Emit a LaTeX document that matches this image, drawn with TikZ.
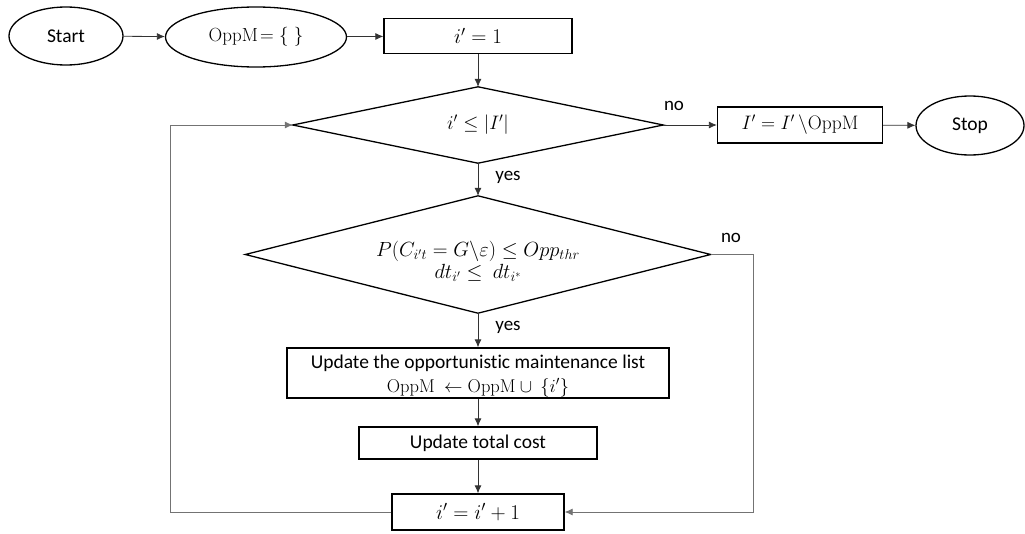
\RequirePackage{fix-cm}
\documentclass[tikz,border=0pt]{standalone}
\usepackage[no-math]{fontspec}
\setmainfont[Ligatures=NoCommon]{Carlito}
\usetikzlibrary{shapes.geometric,arrows.meta}

\begin{document}
\begin{tikzpicture}[x=1pt,y=-1pt,
  every node/.style={font=\fontsize{19.5}{24}\selectfont},
  term/.style={draw, ellipse, line width=1.3pt, inner sep=0pt},
  proc/.style={draw, rectangle, line width=1.3pt, inner sep=0pt, align=center},
  decframe/.style={rectangle, inner sep=0pt},
  decline/.style={draw, line width=1.3pt, line join=miter},
  flow/.style={-{Latex[length=8pt,width=7pt]}, line width=0.8pt, draw=black!80},
  back/.style={flow, draw=black!55},
  lbl/.style={font=\fontsize{19}{22}\selectfont}
]
\useasboundingbox (0,0) rectangle (1025,533);

% top row
\node[term, minimum width=114pt, minimum height=58pt] (start) at (66,36) {Start};
\node[term, minimum width=181pt, minimum height=60pt, font=\fontsize{19}{22}\selectfont] (oppm) at (256,37) {$\mathrm{OppM}\!=\{\;\}$};
\node[proc, minimum width=188pt, minimum height=35pt, font=\fontsize{21}{24}\selectfont] (init) at (478,36) {$i' = 1$};

% first decision
\node[decframe, minimum width=370pt, minimum height=76pt] (d1) at (478,125) {$i' \leq |I'|$};
\draw[decline] (d1.north) -- (d1.east) -- (d1.south) -- (d1.west) -- cycle;

\node[proc, minimum width=165pt, minimum height=36pt] (remove) at (800,125) {$I' = I'\,\backslash\mathrm{OppM}$};
\node[term, minimum width=108pt, minimum height=59pt] (stop) at (970,125.5) {Stop};

% second decision
\node[decframe, minimum width=465pt, minimum height=117pt] (d2) at (478,254.5) {};
\draw[decline] (d2.north) -- (d2.east) -- (d2.south) -- (d2.west) -- cycle;
\node[align=center, inner sep=0pt, font=\fontsize{20.5}{24}\selectfont] (d2text) at (478,261)
  {$P(C_{i't} = G\backslash\varepsilon) \leq Opp_{thr}$\\[-2pt] $dt_{i'} \leq\ dt_{i^{*}}$};

% processing steps
\node[proc, minimum width=382pt, minimum height=50pt] (upd) at (478,373) {};
\node[align=center, inner sep=0pt] (updtext) at (478,376)
  {Update the opportunistic maintenance list\\[0pt] {\fontsize{18.5}{22}\selectfont$\mathrm{OppM}\ \leftarrow \mathrm{OppM}\cup\ \{i'\}$}};
\node[proc, minimum width=238pt, minimum height=32pt] (cost) at (478,443) {Update total cost};
\node[proc, minimum width=172pt, minimum height=36pt, font=\fontsize{21}{24}\selectfont] (inc) at (478,512) {$i' = i' + 1$};

% branch labels
\node[lbl] (no1) at (674,106) {no};
\node[lbl] (yes1) at (508,177) {yes};
\node[lbl] (no2) at (731,238) {no};
\node[lbl] (yes2) at (508,327) {yes};

% corner points of the loops
\coordinate (rt) at (753,254.5);
\coordinate (lf) at (170,512);

% connectors
\draw[flow] (start) -- (oppm);
\draw[flow] (oppm) -- (init);
\draw[flow] (init) -- (d1.north);
\draw[flow] (d1.east) -- (remove);
\draw[flow] (remove) -- (stop);
\draw[flow] (d1.south) -- (d2.north);
\draw[flow] (d2.south) -- (upd);
\draw[flow] (upd) -- (cost);
\draw[flow] (cost) -- (inc);
\draw[back] (d2.east) -- (rt) |- (inc.east);
\draw[back] (inc.west) -- (lf) |- (d1.west);
\end{tikzpicture}
\end{document}
